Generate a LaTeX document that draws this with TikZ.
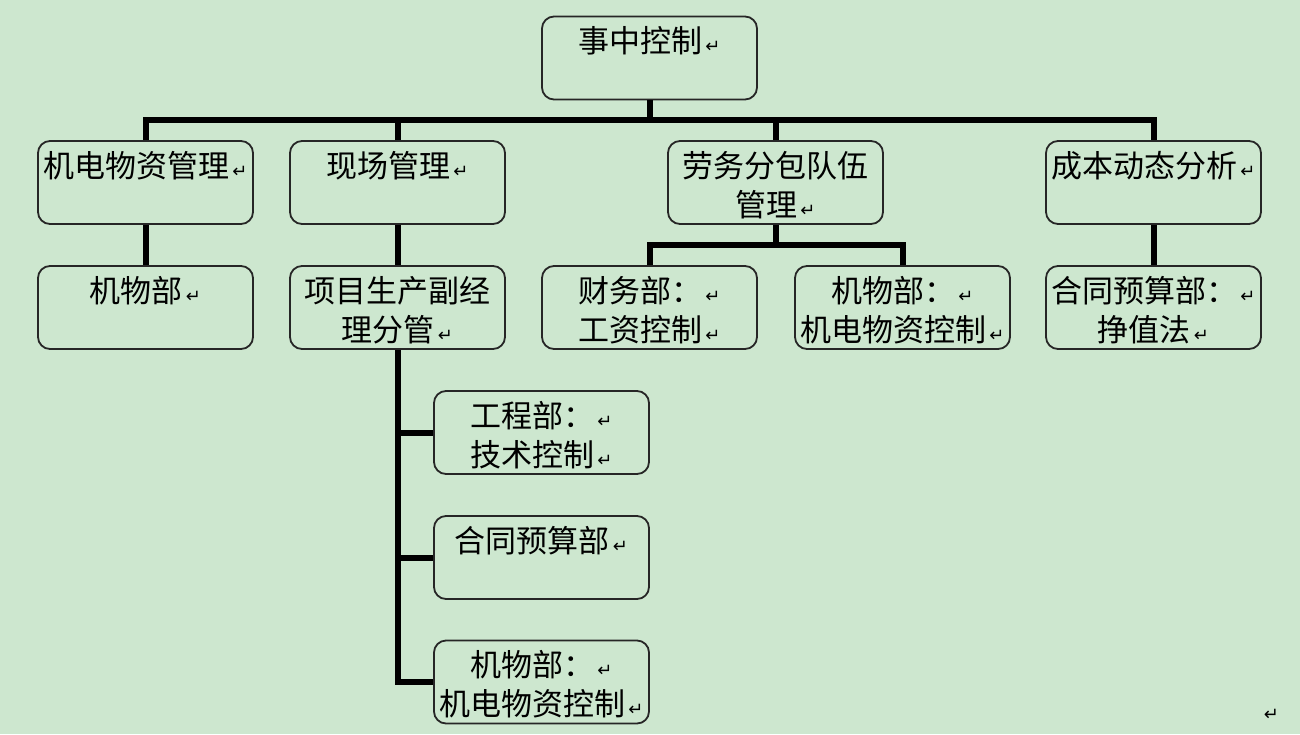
\documentclass[tikz,border=0pt]{standalone}
\usepackage{fontspec}
\newfontfamily\cjk{Noto Sans CJK SC}
\newfontfamily\dv{DejaVu Sans}
\newcommand{\rmk}{{\dv\fontsize{18}{18}\selectfont\,↵}}
\definecolor{bg}{RGB}{205,231,207}
\begin{document}
\begin{tikzpicture}[x=1pt,y=-1pt,
 box/.style={draw=black!85, line width=1.8pt, rounded corners=12pt, minimum width=215pt, minimum height=83pt, inner sep=0pt, fill=bg},
 conn/.style={line width=6pt, draw=black, line join=miter},
 txt/.style={font=\cjk\fontsize{31}{39}\selectfont, align=center, inner sep=0pt, anchor=north}
]
\fill[bg] (0,0) rectangle (1300,734);
% boxes
\node[box] (top) at (649.5,58) {};
\node[box] (A) at (145.5,182.5) {};
\node[box] (B) at (397.5,182.5) {};
\node[box] (C) at (775.5,182.5) {};
\node[box] (D) at (1153.5,182.5) {};
\node[box] (A1) at (145.5,307.5) {};
\node[box] (B1) at (397.5,307.5) {};
\node[box] (C1) at (649.5,307.5) {};
\node[box] (C2) at (902.5,307.5) {};
\node[box] (D1) at (1153.5,307.5) {};
\node[box] (E1) at (541.5,432.5) {};
\node[box] (E2) at (541.5,557.5) {};
\node[box] (E3) at (541.5,682) {};
% texts
\node[txt] (topT) at ([yshift=-11pt]top.north) {事中控制\rmk};
\node[txt] (AT) at ([yshift=-11pt]A.north) {机电物资管理\rmk};
\node[txt] (BT) at ([yshift=-11pt]B.north) {现场管理\rmk};
\node[txt] (CT) at ([yshift=-11pt]C.north) {劳务分包队伍\\管理\rmk};
\node[txt] (DT) at ([yshift=-11pt]D.north) {成本动态分析\rmk};
\node[txt] (A1T) at ([yshift=-11pt]A1.north) {机物部\rmk};
\node[txt] (B1T) at ([yshift=-11pt]B1.north) {项目生产副经\\理分管\rmk};
\node[txt] (C1T) at ([yshift=-11pt]C1.north) {财务部：\rmk\\工资控制\rmk};
\node[txt] (C2T) at ([yshift=-11pt]C2.north) {机物部：\rmk\\机电物资控制\rmk};
\node[txt] (D1T) at ([yshift=-11pt]D1.north) {合同预算部：\rmk\\挣值法\rmk};
\node[txt] (E1T) at ([yshift=-11pt]E1.north) {工程部：\rmk\\技术控制\rmk};
\node[txt] (E2T) at ([yshift=-11pt]E2.north) {合同预算部\rmk};
\node[txt] (E3T) at ([yshift=-11pt]E3.north) {机物部：\rmk\\机电物资控制\rmk};
\node[inner sep=0pt] (stray) at (1270,715) {\rmk};
% connectors
\coordinate (bus) at (649.5,120);
\coordinate (cbus) at (775.5,245);
\draw[conn] (top.south) -- (top.south |- bus);
\draw[conn] (A.north) -- (A.north |- bus) -- (D.north |- bus) -- (D.north);
\draw[conn] (B.north) -- (B.north |- bus);
\draw[conn] (C.north) -- (C.north |- bus);
\draw[conn] (A.south) -- (A1.north);
\draw[conn] (B.south) -- (B1.north);
\draw[conn] (D.south) -- (D1.north);
\draw[conn] (C.south) -- (cbus);
\draw[conn] (C1.north) -- (C1.north |- cbus) -- (C2.north |- cbus) -- (C2.north);
\draw[conn] (B1.south) -- (B1.south |- E3.west) -- (E3.west);
\draw[conn] (B1.south |- E1.west) -- (E1.west);
\draw[conn] (B1.south |- E2.west) -- (E2.west);
\end{tikzpicture}
\end{document}
